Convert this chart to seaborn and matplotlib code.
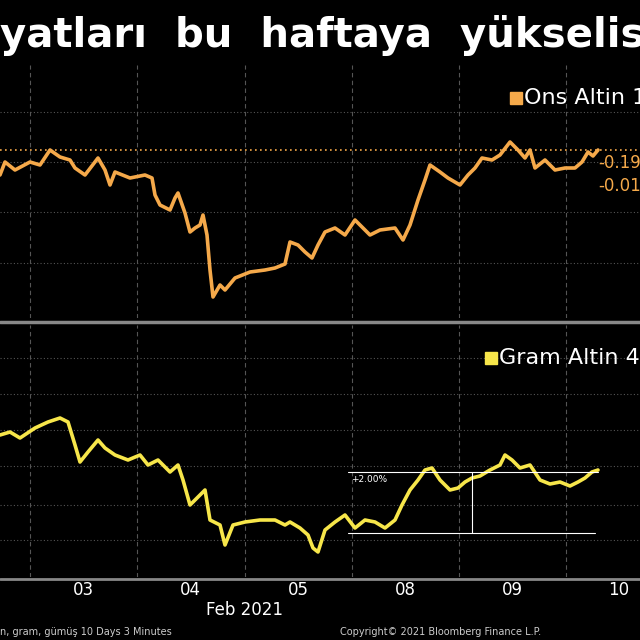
import numpy as np
import pandas as pd
import matplotlib
matplotlib.use('Agg')
from matplotlib import pyplot as plt
import seaborn as sns

# values (x = chart position, y = screen height, inverted axis)
ons_x = [0, 5, 15, 30, 40, 50, 60, 70, 75, 85, 98, 105, 110, 115, 130, 145, 152, 155, 160, 170,
         175, 178, 185, 190, 195, 200, 203, 207, 210, 213, 220, 225, 235, 250, 265, 275, 285, 290,
         298, 305, 312, 318, 325, 335, 345, 355, 370, 380, 395, 403, 410, 418, 425, 430, 440, 448,
         460, 468, 475, 482, 492, 500, 510, 518, 525, 530, 535, 545, 555, 565, 575, 582, 588, 593, 598]
ons_y = [175, 162, 170, 162, 165, 150, 157, 160, 168, 175, 158, 170, 185, 172, 178, 175, 178, 195,
         205, 210, 198, 193, 213, 232, 228, 225, 215, 235, 270, 297, 285, 290, 278, 272, 270, 268,
         264, 242, 245, 252, 258, 245, 232, 228, 235, 220, 235, 230, 228, 240, 225, 200, 180, 165,
         172, 178, 185, 175, 168, 158, 160, 155, 142, 150, 158, 150, 168, 160, 170, 168, 168, 162,
         152, 156, 150]

gram_x = [0, 10, 20, 35, 48, 60, 68, 75, 80, 88, 98, 105, 115, 128, 140, 148, 158, 170, 178, 183,
          190, 200, 205, 210, 220, 225, 233, 245, 260, 275, 285, 290, 300, 308, 313, 318, 325, 335,
          345, 355, 365, 375, 385, 395, 402, 410, 418, 425, 432, 440, 450, 458, 465, 472, 480, 490,
          500, 505, 512, 520, 530, 540, 550, 560, 570, 578, 585, 592, 598]
gram_y = [435, 432, 438, 428, 422, 418, 422, 445, 462, 452, 440, 448, 455, 460, 455, 465, 460, 472,
          465, 480, 505, 495, 490, 520, 525, 545, 525, 522, 520, 520, 525, 522, 528, 535, 548, 552,
          530, 522, 515, 528, 520, 522, 528, 520, 505, 490, 480, 470, 468, 480, 490, 488, 482, 478,
          476, 470, 465, 455, 460, 468, 465, 480, 484, 482, 486, 482, 478, 472, 470]

day_edges = [30, 137, 245, 352, 459, 566]
day_labels = ['03', '04', '05', '08', '09', '10']

ons = pd.DataFrame({'x': ons_x, 'y': ons_y})
gram = pd.DataFrame({'x': gram_x, 'y': gram_y})

sns.set_style('dark')
plt.rcParams['font.family'] = ['DejaVu Sans']
fig = plt.figure(figsize=(6.4, 6.4), dpi=100, facecolor='black')

def px(y):
    return 1 - y / 640

ax1 = fig.add_axes([0, px(318), 1, (318 - 65) / 640])
ax2 = fig.add_axes([0, px(577), 1, (577 - 325) / 640])

for ax, df, color, lim, grid in [
        (ax1, ons, '#f5a94a', (318, 65), [112, 162, 212, 263]),
        (ax2, gram, '#f7e64a', (577, 325), [358, 394, 430, 466, 505, 540])]:
    ax.set_facecolor('black')
    sns.lineplot(data=df, x='x', y='y', color=color, lw=2.6, ax=ax)
    ax.set_xlim(0, 640)
    ax.set_ylim(*lim)
    for g in grid:
        ax.axhline(g, color='#555555', lw=0.8, ls=(0, (1, 2)), zorder=0)
    for e in day_edges:
        ax.axvline(e, color='#555555', lw=0.8, ls=(0, (4, 3)), zorder=0)
    ax.set_xticks([])
    ax.set_yticks([])
    ax.set_xlabel('')
    ax.set_ylabel('')
    for s in ax.spines.values():
        s.set_visible(False)

ax1.axhline(150, color='#f5a94a', lw=1.2, ls=(0, (1, 2)))
ax1.text(598, 163, '-0.19', color='#f5a94a', fontsize=12, va='center')
ax1.text(598, 186, '-0.01', color='#f5a94a', fontsize=12, va='center')

# measurement annotation
ax2.plot([348, 598], [472, 472], color='white', lw=0.8)
ax2.plot([348, 595], [533, 533], color='white', lw=0.8)
ax2.plot([472, 472], [472, 533], color='white', lw=0.8)
ax2.text(351, 480, '+2.00%', color='white', fontsize=6.5, va='center')

# panel separator and bottom line
fig.add_artist(plt.Line2D([0, 1], [px(322), px(322)], color='#888888', lw=2.5))
fig.add_artist(plt.Line2D([0, 1], [px(579), px(579)], color='#888888', lw=2))

# legend boxes
for y0, y1, x0, label, color in [(78, 118, 490, 'Ons Altin 1', '#f5a94a'),
                                 (338, 378, 465, 'Gram Altin 41', '#f7e64a')]:
    fig.add_artist(plt.Rectangle((x0 / 640, px(y1)), 1 - x0 / 640, (y1 - y0) / 640,
                                 color='#1e1e1e', zorder=0))
    yc = px((y0 + y1) / 2)
    fig.add_artist(plt.Rectangle(((x0 + 20) / 640, yc - 0.009), 0.018, 0.018, color=color))
    fig.text((x0 + 34) / 640, yc, label, color='white', fontsize=16, va='center')

for e, lab in zip(day_edges, day_labels):
    fig.text((e + 53) / 640, px(590), lab, color='white', fontsize=12, ha='center', va='center')
fig.text(245 / 640, px(610), 'Feb 2021', color='white', fontsize=12, ha='center', va='center')
fig.text(0, px(632), 'n, gram, gümüş 10 Days 3 Minutes', color='#cccccc', fontsize=7, va='center')
fig.text(340 / 640, px(632), 'Copyright© 2021 Bloomberg Finance L.P.', color='#cccccc',
         fontsize=7, va='center')

fig.text(0.0, px(35), 'yatları  bu  haftaya  yükselis', color='white', fontsize=29,
         fontweight='bold', va='center')

fig.savefig('out.png', dpi=100, facecolor='black')
